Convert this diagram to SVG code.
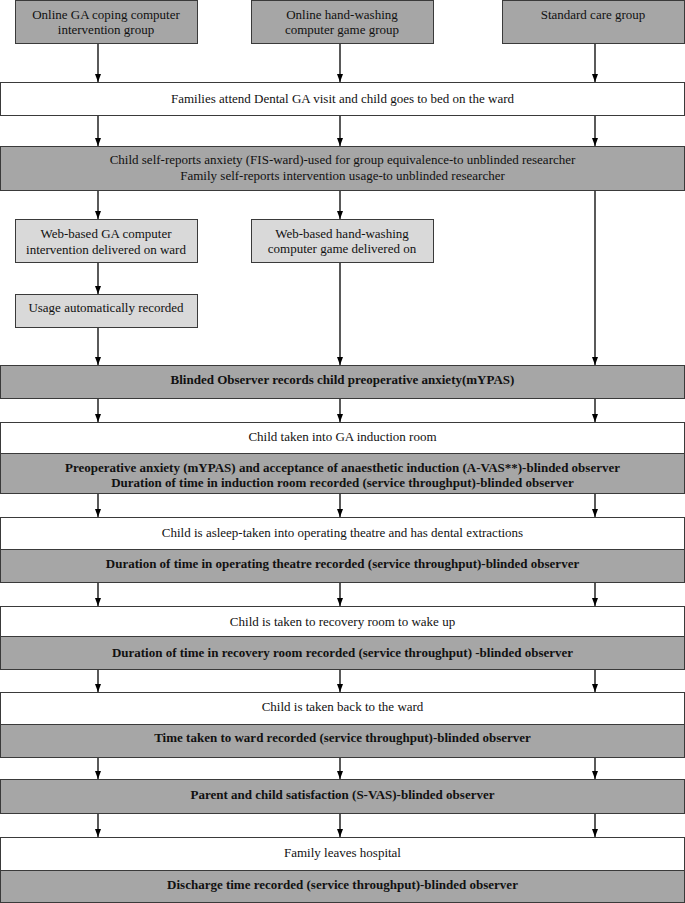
<svg xmlns="http://www.w3.org/2000/svg" width="685" height="903" viewBox="0 0 685 903">
<style>
text{font-family:"Liberation Serif","Times New Roman",serif;font-size:13px;fill:#111;text-anchor:middle}
.b{font-weight:bold}
rect{stroke:#3a3a3a;stroke-width:1}
.dk{fill:#a6a6a6}
.lt{fill:#d9d9d9}
.wh{fill:#ffffff}
.con line{stroke:#000;stroke-width:1.3;marker-end:url(#ah)}
</style>
<defs>
<marker id="ah" viewBox="0 0 8 6" refX="8" refY="3" markerWidth="8" markerHeight="6" markerUnits="userSpaceOnUse" orient="auto">
<path d="M0,0 L8,3 L0,6 Z" fill="#000"/>
</marker>
</defs>
<rect width="685" height="903" fill="#fff" style="stroke:none"/>
<g id="top1"><rect class="dk" x="15.5" y="0.5" width="182" height="43"/><text x="106" y="18.5">Online GA coping computer</text><text x="106" y="33.5">intervention group</text></g>
<g id="top2"><rect class="dk" x="251.5" y="0.5" width="182" height="43"/><text x="342" y="18.5">Online hand-washing</text><text x="342" y="33.5">computer game group</text></g>
<g id="top3"><rect class="dk" x="502.5" y="0.5" width="182" height="43"/><text x="593" y="18.5">Standard care group</text></g>
<g id="families"><rect class="wh" x="0.5" y="82.5" width="684" height="33"/><text x="342.5" y="103">Families attend Dental GA visit and child goes to bed on the ward</text></g>
<g id="selfreport"><rect class="dk" x="0.5" y="146.5" width="684" height="44"/><text x="342.5" y="163.5">Child self-reports anxiety (FIS-ward)-used for group equivalence-to unblinded researcher</text><text x="342.5" y="179.5">Family self-reports intervention usage-to unblinded researcher</text></g>
<g id="web1"><rect class="lt" x="15.5" y="219.5" width="182" height="43"/><text x="106" y="237.5">Web-based GA computer</text><text x="106" y="253.5">intervention delivered on ward</text></g>
<g id="web2"><rect class="lt" x="251.5" y="219.5" width="182" height="43"/><text x="342" y="237.5">Web-based hand-washing</text><text x="342" y="252.5">computer game delivered on</text></g>
<g id="usage"><rect class="lt" x="15.5" y="294.5" width="182" height="33"/><text x="106" y="311.5">Usage automatically recorded</text></g>
<g id="blinded"><rect class="dk" x="0.5" y="365.5" width="684" height="33"/><text class="b" x="342.5" y="383.5">Blinded Observer records child preoperative anxiety(mYPAS)</text></g>
<g id="induction"><rect class="wh" x="0.5" y="422.5" width="684" height="31"/><text x="342.5" y="440.5">Child taken into GA induction room</text></g>
<g id="inductionobs"><rect class="dk" x="0.5" y="453.5" width="684" height="40"/><text class="b" x="342.5" y="471.5">Preoperative anxiety (mYPAS) and acceptance of anaesthetic induction (A-VAS**)-blinded observer</text><text class="b" x="342.5" y="486.5">Duration of time in induction room recorded (service throughput)-blinded observer</text></g>
<g id="theatre"><rect class="wh" x="0.5" y="517.5" width="684" height="32"/><text x="342.5" y="536.5">Child is asleep-taken into operating theatre and has dental extractions</text></g>
<g id="theatreobs"><rect class="dk" x="0.5" y="549.5" width="684" height="33"/><text class="b" x="342.5" y="567.5">Duration of time in operating theatre recorded (service throughput)-blinded observer</text></g>
<g id="recovery"><rect class="wh" x="0.5" y="606.5" width="684" height="30"/><text x="342.5" y="625.5">Child is taken to recovery room to wake up</text></g>
<g id="recoveryobs"><rect class="dk" x="0.5" y="636.5" width="684" height="33"/><text class="b" x="342.5" y="656.5">Duration of time in recovery room recorded (service throughput) -blinded observer</text></g>
<g id="ward"><rect class="wh" x="0.5" y="692.5" width="684" height="32"/><text x="342.5" y="710.5">Child is taken back to the ward</text></g>
<g id="wardobs"><rect class="dk" x="0.5" y="724.5" width="684" height="33"/><text class="b" x="342.5" y="741.5">Time taken to ward recorded (service throughput)-blinded observer</text></g>
<g id="satisfaction"><rect class="dk" x="0.5" y="779.5" width="684" height="34"/><text class="b" x="342.5" y="798.5">Parent and child satisfaction (S-VAS)-blinded observer</text></g>
<g id="leaves"><rect class="wh" x="0.5" y="837.5" width="684" height="33"/><text x="342.5" y="856.5">Family leaves hospital</text></g>
<g id="discharge"><rect class="dk" x="0.5" y="870.5" width="684" height="32"/><text class="b" x="342.5" y="888.5">Discharge time recorded (service throughput)-blinded observer</text></g>
<g class="con" id="connectors">
<line x1="98" y1="44" x2="98" y2="82"/><line x1="340" y1="44" x2="340" y2="82"/><line x1="595" y1="44" x2="595" y2="82"/>
<line x1="98" y1="116" x2="98" y2="146"/><line x1="340" y1="116" x2="340" y2="146"/><line x1="595" y1="116" x2="595" y2="146"/>
<line x1="98" y1="191" x2="98" y2="219"/><line x1="340" y1="191" x2="340" y2="219"/>
<line x1="98" y1="263" x2="98" y2="294"/>
<line x1="98" y1="328" x2="98" y2="365"/><line x1="340" y1="263" x2="340" y2="365"/><line x1="595" y1="191" x2="595" y2="365"/>
<line x1="98" y1="399" x2="98" y2="422"/><line x1="340" y1="399" x2="340" y2="422"/><line x1="595" y1="399" x2="595" y2="422"/>
<line x1="98" y1="494" x2="98" y2="517"/><line x1="340" y1="494" x2="340" y2="517"/><line x1="595" y1="494" x2="595" y2="517"/>
<line x1="98" y1="583" x2="98" y2="606"/><line x1="340" y1="583" x2="340" y2="606"/><line x1="595" y1="583" x2="595" y2="606"/>
<line x1="98" y1="670" x2="98" y2="692"/><line x1="340" y1="670" x2="340" y2="692"/><line x1="595" y1="670" x2="595" y2="692"/>
<line x1="98" y1="758" x2="98" y2="779"/><line x1="340" y1="758" x2="340" y2="779"/><line x1="595" y1="758" x2="595" y2="779"/>
<line x1="98" y1="814" x2="98" y2="837"/><line x1="340" y1="814" x2="340" y2="837"/><line x1="595" y1="814" x2="595" y2="837"/>
</g>
</svg>
